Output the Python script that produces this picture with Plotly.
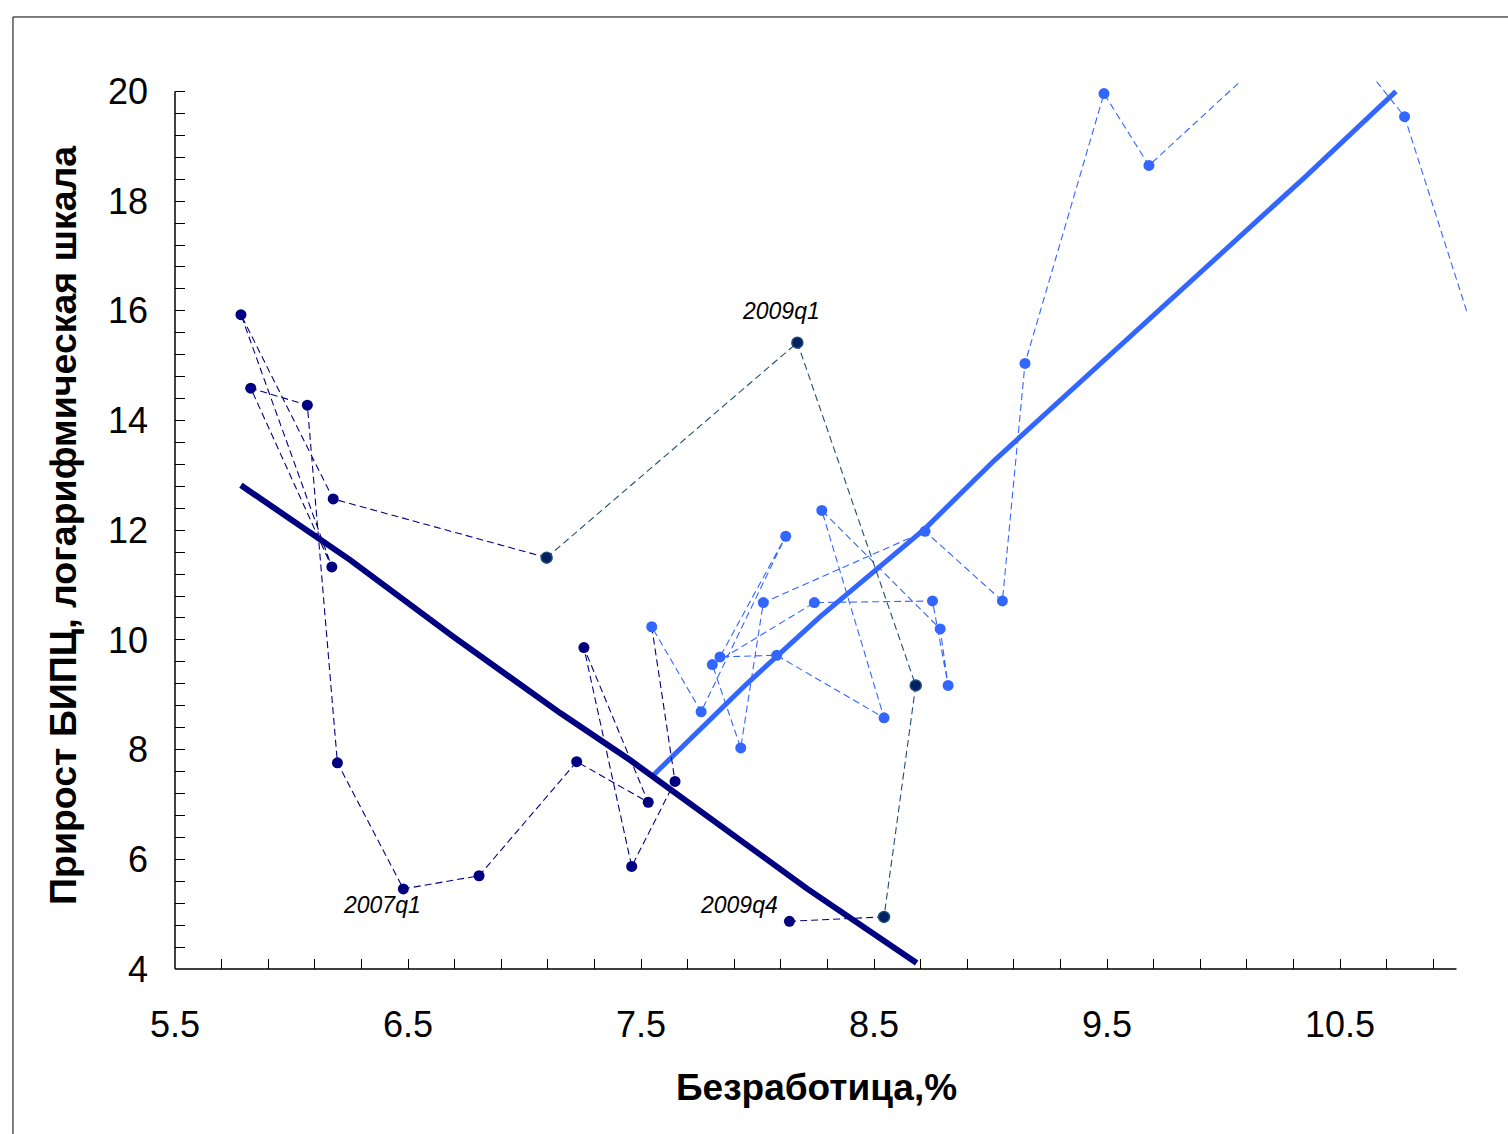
import plotly.graph_objects as go

# ---------------- data ----------------
quarters = [
    "2000q1", "2000q2", "2000q3", "2000q4",
    "2001q1", "2001q2", "2001q3", "2001q4",
    "2002q1", "2002q2", "2002q3", "2002q4",
    "2003q1", "2003q2", "2003q3", "2003q4",
    "2004q1", "2004q2", "2004q3", "2004q4",
    "2005q1", "2005q2", "2005q3", "2005q4",
    "2006q1", "2006q2", "2006q3", "2006q4",
    "2007q1", "2007q2", "2007q3", "2007q4",
    "2008q1", "2008q2", "2008q3", "2008q4",
    "2009q1", "2009q2", "2009q3", "2009q4",
]
unemployment = [
    11.273, 10.777, 10.409, 9.680,
    9.487, 9.148, 9.051, 8.719,
    8.025, 7.928, 7.806, 8.244,
    8.751, 8.818, 8.784, 8.276,
    8.543, 8.082, 7.839, 8.121,
    7.758, 7.546, 7.646, 7.460,
    7.255, 7.531, 7.224, 6.805,
    6.480, 6.197, 6.068, 5.825,
    6.173, 5.783, 6.179, 7.095,
    8.171, 8.679, 8.543, 8.137,
]
cpi_growth = [
    12.94, 19.54, 21.50, 18.65,
    19.96, 15.04, 10.71, 11.98,
    10.68, 8.03, 9.55, 10.68,
    10.71, 9.17, 10.20, 12.36,
    8.58, 9.72, 9.69, 11.89,
    8.69, 10.24, 7.42, 5.87,
    9.86, 7.04, 7.78, 5.70,
    5.46, 7.76, 14.28, 14.59,
    11.33, 15.93, 12.57, 11.50,
    15.42, 9.17, 4.95, 4.87,
]

# trend lines
trend_early_x = [7.547, 7.954, 8.268, 8.719, 9.016, 9.882, 10.345, 10.740]
trend_early_y = [7.51, 9.20, 10.42, 12.03, 13.27, 16.62, 18.42, 20.00]
trend_late_x = [5.783, 6.251, 6.694, 7.152, 7.453, 7.911, 8.211, 8.683]
trend_late_y = [12.82, 11.46, 10.06, 8.67, 7.81, 6.38, 5.47, 4.11]

x_tick_vals = [5.5, 6.5, 7.5, 8.5, 9.5, 10.5]
x_tick_text = ["5.5", "6.5", "7.5", "8.5", "9.5", "10.5"]
y_tick_vals = [4, 6, 8, 10, 12, 14, 16, 18, 20]
y_tick_text = ["4", "6", "8", "10", "12", "14", "16", "18", "20"]

labelled_quarters = ["2007q1", "2009q1", "2009q4"]

x_title = "Безработица,%"
y_title = "Прирост БИПЦ, логарифмическая шкала"

# ---------------- styles ----------------
LIGHT = "#3366FF"
NAVY = "#000080"
TEAL = "#1F4E79"
TEAL_FILL = "#00205F"
FONT = "Arial, Liberation Sans, sans-serif"
DASH = "7px,4px"
MSIZE = 11

X_MIN, X_MAX = 5.5, 11.045
Y_MIN, Y_MAX = 4.0, 20.19

idx = quarters.index
i_light_end = idx("2005q2")
i_crisis_start = idx("2008q4")
i_crisis_end = idx("2009q3")
i_last = idx("2009q4")


def seg(a, b):
    return unemployment[a:b + 1], cpi_growth[a:b + 1]


fig = go.Figure()

# trend lines
fig.add_trace(go.Scatter(x=trend_early_x, y=trend_early_y, mode="lines",
                         line=dict(color=LIGHT, width=5), hoverinfo="skip"))
fig.add_trace(go.Scatter(x=trend_late_x, y=trend_late_y, mode="lines",
                         line=dict(color=NAVY, width=6), hoverinfo="skip"))

# dashed path segments
sx, sy = seg(0, i_light_end)
fig.add_trace(go.Scatter(x=sx, y=sy, mode="lines",
                         line=dict(color=LIGHT, width=1.1, dash=DASH)))
sx, sy = seg(i_light_end, i_crisis_start)
fig.add_trace(go.Scatter(x=sx, y=sy, mode="lines",
                         line=dict(color=NAVY, width=1.1, dash=DASH)))
sx, sy = seg(i_crisis_start, i_crisis_end)
fig.add_trace(go.Scatter(x=sx, y=sy, mode="lines",
                         line=dict(color=TEAL, width=1.1, dash=DASH)))
sx, sy = seg(i_crisis_end, i_last)
fig.add_trace(go.Scatter(x=sx, y=sy, mode="lines",
                         line=dict(color=NAVY, width=1.1, dash=DASH)))

# markers
sx, sy = seg(0, i_light_end)
fig.add_trace(go.Scatter(x=sx, y=sy, mode="markers", cliponaxis=True,
                         marker=dict(color=LIGHT, size=MSIZE, line=dict(width=0))))
navy_x = unemployment[i_light_end + 1:i_crisis_start] + [unemployment[i_last]]
navy_y = cpi_growth[i_light_end + 1:i_crisis_start] + [cpi_growth[i_last]]
fig.add_trace(go.Scatter(x=navy_x, y=navy_y, mode="markers", cliponaxis=True,
                         marker=dict(color=NAVY, size=MSIZE, line=dict(width=0))))
sx, sy = seg(i_crisis_start, i_crisis_end)
fig.add_trace(go.Scatter(x=sx, y=sy, mode="markers", cliponaxis=True,
                         marker=dict(color=TEAL_FILL, size=MSIZE,
                                     line=dict(color=TEAL, width=1.5))))

# quarter labels (pixel offsets from their points)
label_shift = {"2007q1": (-21, -16), "2009q1": (-16, 32), "2009q4": (-50, 16)}
annotations = []
for q in labelled_quarters:
    k = idx(q)
    dx, dy = label_shift[q]
    annotations.append(dict(x=unemployment[k], y=cpi_growth[k], xref="x", yref="y",
                            text="<i>%s</i>" % q, showarrow=False,
                            xshift=dx, yshift=dy,
                            font=dict(family=FONT, size=23, color="black")))

# axis titles
annotations.append(dict(x=0.4969, y=-0.134, xref="paper", yref="paper",
                        text="<b>%s</b>" % x_title, showarrow=False,
                        xanchor="center", yanchor="middle",
                        font=dict(family=FONT, size=37, color="black")))
annotations.append(dict(x=-0.0867, y=0.5, xref="paper", yref="paper",
                        text="<b>%s</b>" % y_title, showarrow=False, textangle=-90,
                        xanchor="center", yanchor="middle",
                        font=dict(family=FONT, size=37.5, color="black")))

x_end_frac = (11.0 - X_MIN) / (X_MAX - X_MIN)
y_end_frac = (20.0 - Y_MIN) / (Y_MAX - Y_MIN)
shapes = [
    dict(type="line", xref="paper", yref="paper", x0=0, x1=x_end_frac, y0=0, y1=0,
         line=dict(color="black", width=1.5)),
    dict(type="line", xref="paper", yref="paper", x0=0, x1=0, y0=0, y1=y_end_frac,
         line=dict(color="black", width=1.5)),
    dict(type="rect", xref="paper", yref="paper", x0=-0.1254, x1=1.06, y0=-0.22, y1=1.0721,
         line=dict(color="black", width=1), fillcolor="rgba(0,0,0,0)", layer="below"),
]

fig.update_layout(
    width=1508, height=1134,
    margin=dict(l=175, r=41, t=81, b=165, pad=0),
    paper_bgcolor="white", plot_bgcolor="white",
    showlegend=False,
    annotations=annotations, shapes=shapes,
    xaxis=dict(range=[X_MIN, X_MAX], tickmode="array", tickvals=x_tick_vals,
               ticktext=x_tick_text, ticks="inside", ticklen=10, tickwidth=1,
               tickcolor="black", showline=False, showgrid=False, zeroline=False,
               ticklabelstandoff=31, automargin=False,
               tickfont=dict(family=FONT, size=36, color="black"),
               minor=dict(tick0=5.5, dtick=0.2, ticks="inside", ticklen=10,
                          tickwidth=1, tickcolor="black", showgrid=False)),
    yaxis=dict(range=[Y_MIN, Y_MAX], tickmode="array", tickvals=y_tick_vals,
               ticktext=y_tick_text, ticks="inside", ticklen=10, tickwidth=1,
               tickcolor="black", showline=False, showgrid=False, zeroline=False,
               ticklabelstandoff=26, automargin=False,
               tickfont=dict(family=FONT, size=36, color="black"),
               minor=dict(tick0=4, dtick=0.4, ticks="inside", ticklen=10,
                          tickwidth=1, tickcolor="black", showgrid=False)),
)

fig.write_html("out.html")
